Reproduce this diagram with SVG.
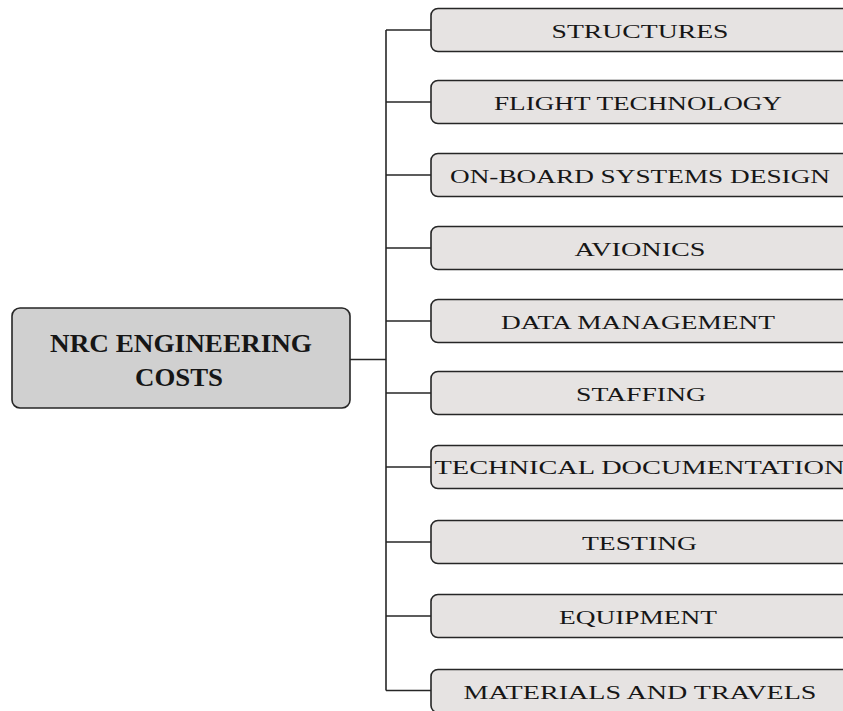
<svg xmlns="http://www.w3.org/2000/svg" width="843" height="711" viewBox="0 0 843 711">
  <style>
    .root rect { fill: #d0d0d0; stroke: #262626; stroke-width: 1.6; }
    .item rect { fill: #e6e3e2; stroke: #262626; stroke-width: 1.6; }
    .root text { font-family: "Liberation Serif", "Times New Roman", serif; font-weight: bold; font-size: 25px; fill: #161616; text-anchor: middle; }
    .item text { font-family: "Liberation Serif", "Times New Roman", serif; font-size: 19px; fill: #161616; text-anchor: middle; }
    .links path { fill: none; stroke: #262626; stroke-width: 1.6; }
  </style>
  <rect width="843" height="711" fill="#ffffff"/>

  <!-- connectors: root stub, trunk and branch stubs -->
  <g class="links" id="connectors">
    <path d="M350 359.5 H386"/>
    <path d="M386 30 V690.5"/>
    <path d="M386 30 H431"/>
    <path d="M386 102 H431"/>
    <path d="M386 175 H431"/>
    <path d="M386 248 H431"/>
    <path d="M386 321 H431"/>
    <path d="M386 393 H431"/>
    <path d="M386 467 H431"/>
    <path d="M386 542 H431"/>
    <path d="M386 616 H431"/>
    <path d="M386 690.5 H431"/>
  </g>

  <g class="root" id="nrc-engineering-costs">
    <rect x="12" y="308" width="338" height="100" rx="8"/>
    <text x="181" y="352" textLength="262" lengthAdjust="spacingAndGlyphs">NRC ENGINEERING</text>
    <text x="179" y="386" textLength="88" lengthAdjust="spacingAndGlyphs">COSTS</text>
  </g>

  <g class="item" id="structures">
    <rect x="431" y="8.5" width="420" height="43" rx="7"/>
    <text x="640" y="37.5" textLength="177" lengthAdjust="spacingAndGlyphs">STRUCTURES</text>
  </g>
  <g class="item" id="flight-technology">
    <rect x="431" y="80.5" width="420" height="43" rx="7"/>
    <text x="638" y="109.5" textLength="288" lengthAdjust="spacingAndGlyphs">FLIGHT TECHNOLOGY</text>
  </g>
  <g class="item" id="on-board-systems-design">
    <rect x="431" y="153.5" width="420" height="43" rx="7"/>
    <text x="640" y="182.5" textLength="380" lengthAdjust="spacingAndGlyphs">ON-BOARD SYSTEMS DESIGN</text>
  </g>
  <g class="item" id="avionics">
    <rect x="431" y="226.5" width="420" height="43" rx="7"/>
    <text x="640" y="255.5" textLength="131" lengthAdjust="spacingAndGlyphs">AVIONICS</text>
  </g>
  <g class="item" id="data-management">
    <rect x="431" y="299.5" width="420" height="43" rx="7"/>
    <text x="638" y="328.5" textLength="274" lengthAdjust="spacingAndGlyphs">DATA MANAGEMENT</text>
  </g>
  <g class="item" id="staffing">
    <rect x="431" y="371.5" width="420" height="43" rx="7"/>
    <text x="641" y="400.5" textLength="130" lengthAdjust="spacingAndGlyphs">STAFFING</text>
  </g>
  <g class="item" id="technical-documentation">
    <rect x="431" y="445.5" width="420" height="43" rx="7"/>
    <text x="639.5" y="474" textLength="410" lengthAdjust="spacingAndGlyphs">TECHNICAL DOCUMENTATION</text>
  </g>
  <g class="item" id="testing">
    <rect x="431" y="520.5" width="420" height="43" rx="7"/>
    <text x="639.5" y="549.5" textLength="115" lengthAdjust="spacingAndGlyphs">TESTING</text>
  </g>
  <g class="item" id="equipment">
    <rect x="431" y="594.5" width="420" height="43" rx="7"/>
    <text x="638" y="623.5" textLength="158" lengthAdjust="spacingAndGlyphs">EQUIPMENT</text>
  </g>
  <g class="item" id="materials-and-travels">
    <rect x="431" y="669.5" width="420" height="43" rx="7"/>
    <text x="640" y="698.5" textLength="353" lengthAdjust="spacingAndGlyphs">MATERIALS AND TRAVELS</text>
  </g>
</svg>
